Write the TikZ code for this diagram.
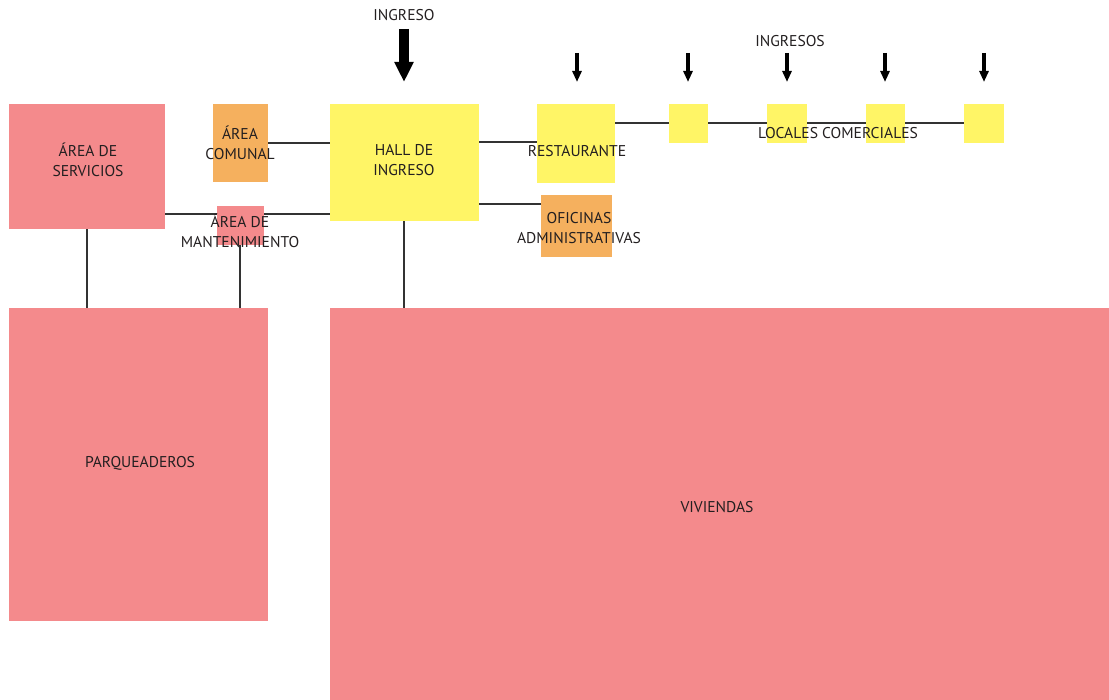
\documentclass[tikz,border=0pt]{standalone}
\usepackage{fontspec}
\setmainfont{PT Sans}
\usetikzlibrary{arrows.meta}
\pgfdeclarelayer{background}
\pgfsetlayers{background,main}
\definecolor{pinkc}{HTML}{F48A8C}
\definecolor{orangec}{HTML}{F5B05E}
\definecolor{yellowc}{HTML}{FFF566}
\definecolor{txtc}{HTML}{231F20}
\definecolor{linec}{HTML}{333333}
\begin{document}
\begin{tikzpicture}[x=1pt,y=-1pt,
  box/.style n args={3}{fill=#1, draw=none, inner sep=0pt, minimum width=#2, minimum height=#3},
  lbl/.style={text=txtc, font=\fontsize{15.6}{20}\selectfont, align=center, inner sep=0pt},
  conn/.style={draw=linec, line width=1.3pt},
  bigarrow/.style={line width=10pt, -{Triangle[width=18pt,length=20pt]}},
  smallarrow/.style={line width=3.8pt, -{Triangle[width=9pt,length=11pt]}}]
\useasboundingbox (0,0) rectangle (1109,700);

% boxes
\node[box={pinkc}{156pt}{125pt}] (serv) at (87,166.5) {};
\node[box={orangec}{55pt}{78pt}] (com) at (240.5,143) {};
\node[box={pinkc}{47pt}{39pt}] (mant) at (240.5,225.5) {};
\node[box={yellowc}{149pt}{117pt}] (hall) at (404.5,162.5) {};
\node[box={yellowc}{78pt}{79pt}] (rest) at (576,143.5) {};
\node[box={orangec}{71pt}{62pt}] (ofic) at (576.5,226) {};
\node[box={yellowc}{39pt}{39pt}] (l1) at (688.5,123.5) {};
\node[box={yellowc}{40pt}{39pt}] (l2) at (787,123.5) {};
\node[box={yellowc}{39pt}{39pt}] (l3) at (885.5,123.5) {};
\node[box={yellowc}{40pt}{39pt}] (l4) at (984,123.5) {};
\node[box={pinkc}{259pt}{313pt}] (parq) at (138.5,464.5) {};
\node[box={pinkc}{779pt}{392pt}] (viv) at (719.5,504) {};

% helper coordinates
\coordinate (y214) at (0,214);
\coordinate (y143) at (0,143);
\coordinate (y142) at (0,142);
\coordinate (y204) at (0,204);
\coordinate (y123) at (0,123);
\coordinate (x87) at (87,0);
\coordinate (x240) at (240,0);
\coordinate (x404) at (404,0);

\begin{pgfonlayer}{background}
\draw[conn] (com.east |- y143) -- (hall.west |- y143);
\draw[conn] (serv.east |- y214) -- (mant.west |- y214);
\draw[conn] (mant.east |- y214) -- (hall.west |- y214);
\draw[conn] (x87 |- serv.south) -- (x87 |- parq.north);
\draw[conn] (x240 |- mant.south) -- (x240 |- parq.north);
\draw[conn] (x404 |- hall.south) -- (x404 |- viv.north);
\draw[conn] (hall.east |- y142) -- (rest.west |- y142);
\draw[conn] (hall.east |- y204) -- (ofic.west |- y204);
\draw[conn] (rest.east |- y123) -- (l1.west |- y123);
\draw[conn] (l1.east |- y123) -- (l2.west |- y123);
\draw[conn] (l2.east |- y123) -- (l3.west |- y123);
\draw[conn] (l3.east |- y123) -- (l4.west |- y123);
\end{pgfonlayer}

% arrows
\coordinate (a0s) at (404,29); \coordinate (a0e) at (404,82);
\coordinate (a1s) at (577,53); \coordinate (a1e) at (577,82);
\coordinate (a2s) at (688,53); \coordinate (a2e) at (688,82);
\coordinate (a3s) at (787,53); \coordinate (a3e) at (787,82);
\coordinate (a4s) at (885,53); \coordinate (a4e) at (885,82);
\coordinate (a5s) at (984,53); \coordinate (a5e) at (984,82);
\draw[bigarrow] (a0s) -- (a0e);
\draw[smallarrow] (a1s) -- (a1e);
\draw[smallarrow] (a2s) -- (a2e);
\draw[smallarrow] (a3s) -- (a3e);
\draw[smallarrow] (a4s) -- (a4e);
\draw[smallarrow] (a5s) -- (a5e);

% labels
\node[lbl] (tingreso) at (404,15) {INGRESO};
\node[lbl] (tingresos) at (790,41) {INGRESOS};
\node[lbl] (tserv) at (88,160) {ÁREA DE\\SERVICIOS};
\node[lbl] (tcom) at (240,143) {ÁREA\\COMUNAL};
\node[lbl] (tmant) at (240,231) {ÁREA DE\\MANTENIMIENTO};
\node[lbl] (thall) at (404,160) {HALL DE\\INGRESO};
\node[lbl] (trest) at (577,151) {RESTAURANTE};
\node[lbl] (tofic) at (579,228) {OFICINAS\\ADMINISTRATIVAS};
\node[lbl] (tloc) at (838,133) {LOCALES COMERCIALES};
\node[lbl] (tparq) at (140,463) {PARQUEADEROS};
\node[lbl] (tviv) at (717,507) {VIVIENDAS};
\end{tikzpicture}
\end{document}
